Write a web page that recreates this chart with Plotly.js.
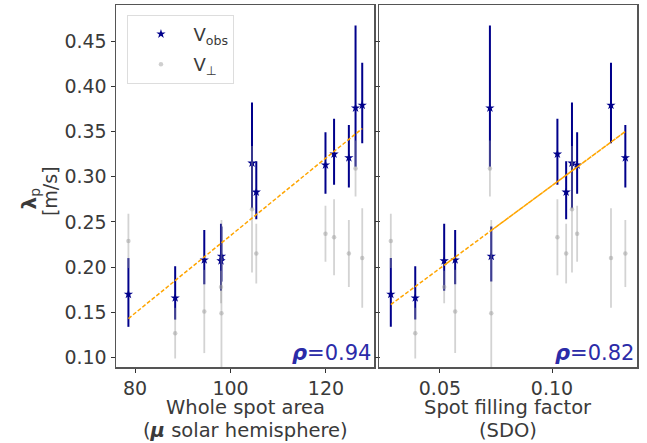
<!DOCTYPE html>
<html>
<head>
<meta charset="utf-8">
<script src="https://cdn.plot.ly/plotly-3.0.1.min.js"></script>
<style>html,body{margin:0;padding:0;background:#fff;}#chart{width:647px;height:443px;}</style>
</head>
<body>
<div id="chart"></div>
<script>
// ---- data ----
const area       = [78.6, 88.4, 94.5, 98.0, 98.1, 104.5, 105.4, 119.9, 121.7, 124.8, 126.2, 127.6];
const fillFactor = [0.0281, 0.0390, 0.0568, 0.0519, 0.0729, 0.1089, 0.1063, 0.1112, 0.1024, 0.1327, 0.0723, 0.1263];
const vObs       = [0.170, 0.166, 0.208, 0.207, 0.212, 0.315, 0.283, 0.313, 0.325, 0.321, 0.376, 0.379];
const vObsErrUp  = [0.040, 0.035, 0.033, 0.041, 0.033, 0.067, 0.034, 0.036, 0.039, 0.036, 0.091, 0.047];
const vObsErrDn  = [0.036, 0.024, 0.027, 0.033, 0.028, 0.050, 0.030, 0.032, 0.034, 0.033, 0.065, 0.042];
const vPerp      = [0.229, 0.127, 0.151, 0.178, 0.149, 0.264, 0.215, 0.237, 0.233, 0.215, 0.309, 0.210];
const vPerpErr   = [0.030, 0.028, 0.046, 0.018, 0.103, 0.070, 0.033, 0.031, 0.042, 0.037, 0.031, 0.055];
const fitArea = [0.004288, -0.1939];   // slope, intercept
const fitFF   = [1.8295, 0.1072];
const rhoLabels = ["0.94", "0.82"];
const legendNames = ["V<sub>obs</sub>", "V<sub>⊥</sub>"];
const yTicks = [0.10, 0.15, 0.20, 0.25, 0.30, 0.35, 0.40, 0.45];
const xTitles = [["Whole spot area", "(<b><i>μ</i></b> solar hemisphere)"],
                 ["Spot filling factor", "(SDO)"]];

const navy = "#00008B";
const grayErr = "rgba(150,150,150,0.42)";
const font = "DejaVu Sans, Liberation Sans, sans-serif";
const textColor = "#3a3a3a";

function panelTraces(xs, fit, xa, ya, showLeg) {
  return [
    {x: xs, y: vObs, xaxis: xa, yaxis: ya, type: "scatter", mode: "markers",
     name: legendNames[0], showlegend: showLeg, legendgroup: "a",
     marker: {symbol: "star", size: 7, color: navy},
     error_y: {type: "data", symmetric: false, array: vObsErrUp, arrayminus: vObsErrDn,
               color: navy, thickness: 2, width: 0}},
    {x: xs, y: vPerp, xaxis: xa, yaxis: ya, type: "scatter", mode: "markers",
     name: legendNames[1], showlegend: showLeg, legendgroup: "b",
     marker: {symbol: "circle", size: 4.5, color: "rgba(160,160,160,0.5)"},
     error_y: {type: "data", array: vPerpErr, color: grayErr, thickness: 1.8, width: 0}},
    {x: xs, y: xs.map(v => fit[0] * v + fit[1]), xaxis: xa, yaxis: ya, type: "scatter",
     mode: "lines", showlegend: false, hoverinfo: "skip",
     line: {color: "#FFA500", width: 1.5, dash: "4px,2px", simplify: false}}
  ];
}

const data = [].concat(
  panelTraces(area, fitArea, "x", "y", true),
  panelTraces(fillFactor, fitFF, "x2", "y2", false)
);

const tickFont = {family: font, size: 19, color: textColor};
const axisCommon = {showgrid: false, zeroline: false, showline: true, linecolor: "#555",
                    linewidth: 1.5, mirror: true, ticks: "outside", ticklen: 4,
                    tickcolor: "#333", tickfont: tickFont};

const titleFont = {family: font, size: 19.5, color: textColor};
const annotations = [
  {xref: "paper", yref: "paper", x: -0.165, y: 0.4655, xanchor: "center", yanchor: "middle",
   textangle: -90, showarrow: false, text: "<b>λ</b><sub>p</sub>",
   font: {family: font, size: 20, color: textColor}},
  {xref: "paper", yref: "paper", x: -0.1267, y: 0.486, xanchor: "center", yanchor: "middle",
   textangle: -90, showarrow: false, text: "[m/s]",
   font: {family: font, size: 19, color: textColor}},
  {xref: "x domain", yref: "y domain", x: 0.995, y: 0.0, xanchor: "right", yanchor: "bottom",
   showarrow: false, text: "<b><i>ρ</i></b>=" + rhoLabels[0],
   font: {family: font, size: 21, color: "#2b2ba8"}},
  {xref: "x2 domain", yref: "y2 domain", x: 0.995, y: 0.0, xanchor: "right", yanchor: "bottom",
   showarrow: false, text: "<b><i>ρ</i></b>=" + rhoLabels[1],
   font: {family: font, size: 21, color: "#2b2ba8"}}
];
["x domain", "x2 domain"].forEach((xr, i) => {
  annotations.push({xref: xr, yref: "paper", x: 0.5, y: -0.111, xanchor: "center", yanchor: "middle",
                    showarrow: false, text: xTitles[i][0], font: titleFont});
  annotations.push({xref: xr, yref: "paper", x: 0.5, y: -0.175, xanchor: "center", yanchor: "middle",
                    showarrow: false, text: xTitles[i][1], font: titleFont});
});

const layout = {
  width: 647, height: 443,
  margin: {l: 116, r: 10, t: 5, b: 76},
  paper_bgcolor: "#fff", plot_bgcolor: "#fff",
  font: {family: font, color: textColor},
  showlegend: true,
  legend: {x: 0.022, y: 0.973, xanchor: "left", yanchor: "top",
           bgcolor: "#fff", bordercolor: "#ddd", borderwidth: 1,
           font: {family: font, size: 18, color: textColor}, itemwidth: 55,
           tracegroupgap: 4, traceorder: "grouped"},
  xaxis: Object.assign({}, axisCommon, {domain: [0, 0.4955], range: [76.0, 130.1],
    tickvals: [80, 100, 120]}),
  yaxis: Object.assign({}, axisCommon, {range: [0.0896, 0.4898], mirror: "allticks",
    tickvals: yTicks, tickformat: ".2f"}),
  xaxis2: Object.assign({}, axisCommon, {domain: [0.5057, 1], range: [0.02304, 0.1379],
    anchor: "y2", tickvals: [0.05, 0.10], tickformat: ".2f"}),
  yaxis2: Object.assign({}, axisCommon, {range: [0.0896, 0.4898], anchor: "x2",
    tickvals: yTicks, showticklabels: false, ticklen: 3}),
  annotations: annotations
};

Plotly.newPlot("chart", data, layout, {displayModeBar: false, staticPlot: true});
</script>
</body>
</html>
